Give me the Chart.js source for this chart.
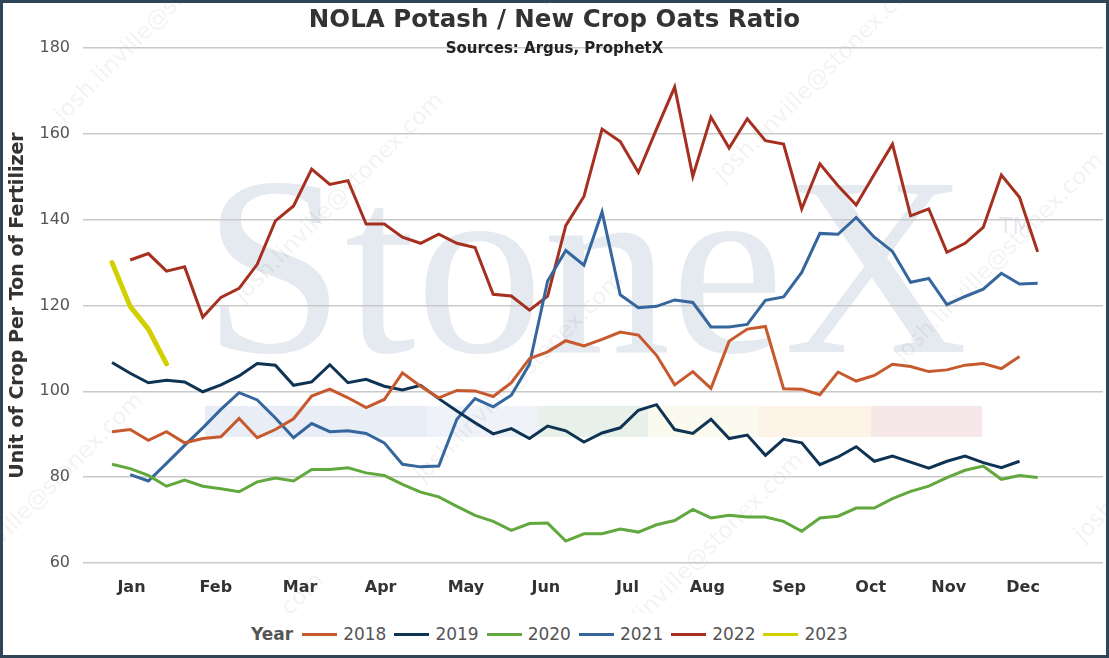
<!DOCTYPE html>
<html>
<head>
<meta charset="utf-8">
<script src="https://cdn.jsdelivr.net/npm/chart.js@4.4.0/dist/chart.umd.min.js"></script>
<style>
  html, body { margin: 0; padding: 0; background: #fff; }
  #frame { position: relative; width: 1109px; height: 658px; box-sizing: border-box; border: 3px solid #2f4658; background: #fff; overflow: hidden; }
  #wrap { position: absolute; left: 0; top: 0; width: 1103px; height: 610px; }
  #legend { position: absolute; left: 248px; top: 619px; height: 24px; display: flex; align-items: center; font-family: "DejaVu Sans", Verdana, sans-serif; font-size: 17px; color: #555; white-space: nowrap; }
  #legend .ttl { font-weight: bold; margin-right: 9px; }
  #legend .ln { display: inline-block; width: 35px; height: 3px; margin-right: 6px; }
  #legend .txt { margin-right: 8px; }
</style>
</head>
<body>
<div id="frame">
  <div id="wrap"><canvas id="chart"></canvas></div>
  <div id="legend"></div>
</div>
<script>
// 週ごとの比率（1週目 = index 0）
const monthLabels = ['Jan', 'Feb', 'Mar', 'Apr', 'May', 'Jun', 'Jul', 'Aug', 'Sep', 'Oct', 'Nov', 'Dec'];
const monthTicks = [1.07, 5.72, 10.36, 14.8, 19.5, 23.9, 28.4, 32.8, 37.3, 41.8, 46.1, 50.2]; // 月ラベルの週位置

const years = ['2018', '2019', '2020', '2021', '2022', '2023'];
const colors = ['#c65a2e', '#0f3352', '#62a83f', '#35679e', '#a53020', '#d2d000'];

const y2018 = [90.6, 91.1, 88.6, 90.6, 88.0, 89.0, 89.4, 93.7, 89.2, 91.1, 93.6, 98.9, 100.5, 98.5, 96.2, 98.1, 104.3, 101.2, 98.5, 100.2,
  100.1, 98.8, 102.0, 107.6, 109.2, 111.8, 110.6, 112.1, 113.8, 113.1, 108.4, 101.5, 104.6, 100.7, 111.7, 114.5, 115.1, 100.6, 100.5, 99.2,
  104.5, 102.4, 103.7, 106.3, 105.8, 104.6, 105.0, 106.1, 106.5, 105.3, 108.1];
const y2019 = [106.7, 104.2, 102.0, 102.6, 102.2, 99.9, 101.5, 103.6, 106.5, 106.1, 101.4, 102.2, 106.2, 102.0, 102.8, 101.2, 100.3, 101.4, 98.3, 95.4,
  92.7, 90.1, 91.3, 89.0, 91.9, 90.8, 88.2, 90.3, 91.5, 95.6, 96.9, 91.1, 90.2, 93.5, 89.0, 89.8, 85.1, 88.8, 88.0, 82.9,
  84.7, 87.1, 83.7, 84.9, 83.5, 82.1, 83.7, 84.9, 83.4, 82.2, 83.7];
const y2020 = [83.0, 82.0, 80.4, 77.9, 79.3, 77.9, 77.3, 76.6, 78.9, 79.8, 79.1, 81.8, 81.8, 82.2, 81.0, 80.4, 78.3, 76.5, 75.4, 73.2,
  71.1, 69.7, 67.6, 69.2, 69.3, 65.1, 66.8, 66.8, 67.9, 67.2, 68.9, 69.9, 72.5, 70.5, 71.1, 70.7, 70.7, 69.7, 67.4, 70.5,
  70.9, 72.8, 72.8, 75.0, 76.7, 77.9, 79.9, 81.6, 82.6, 79.5, 80.4, 79.9];
const y2021 = [null, 80.6, 79.1, 83.2, 87.4, 91.5, 95.8, 99.7, 98.0, 93.8, 89.2, 92.5, 90.6, 90.8, 90.2, 88.0, 83.0, 82.4, 82.6, 93.5,
  98.3, 96.4, 99.1, 106.3, 125.7, 132.8, 129.4, 141.8, 122.5, 119.5, 119.8, 121.3, 120.7, 115.0, 115.0, 115.6, 121.2, 122.0, 127.7, 136.8,
  136.6, 140.5, 135.9, 132.6, 125.4, 126.3, 120.2, 122.1, 123.8, 127.5, 125.0, 125.2];
const y2022 = [null, 130.6, 132.1, 128.0, 129.0, 117.3, 121.9, 124.0, 129.6, 139.7, 143.2, 151.8, 148.2, 149.1, 139.0, 139.0, 135.9, 134.5, 136.6, 134.5,
  133.5, 122.6, 122.2, 118.9, 122.2, 138.6, 145.4, 161.1, 158.2, 151.0, 161.1, 170.9, 150.1, 163.9, 156.7, 163.5, 158.4, 157.6, 142.5, 153.0,
  147.9, 143.4, 150.6, 157.6, 140.9, 142.5, 132.4, 134.5, 138.2, 150.4, 145.2, 132.5];
const y2023 = [130.0, 119.8, 114.5, 106.4];

const yTitle = 'Unit of Crop Per Ton of Fertilizer';
const chartTitle = 'NOLA Potash / New Crop Oats Ratio';
const chartSubtitle = 'Sources: Argus, ProphetX';
const watermarkText = 'StoneX';
const emailText = 'josh.linville@stonex.com';

const series = [y2018, y2019, y2020, y2021, y2022, y2023];

// 週番号を x にした点列へ
function toPoints(vals) {
  return vals.map((v, i) => ({ x: i, y: v }));
}

const datasets = series.map((vals, i) => ({
  label: years[i],
  data: toPoints(vals),
  borderColor: colors[i],
  backgroundColor: colors[i],
  borderWidth: i === 5 ? 5 : 3,
  borderCapStyle: i === 5 ? 'round' : 'butt',
  borderJoinStyle: i === 5 ? 'round' : 'miter',
  pointRadius: 0,
  tension: 0,
  spanGaps: false
}));

// 背景のロゴ透かし
const watermark = {
  id: 'watermark',
  beforeDraw(chart) {
    const c = chart.ctx;
    c.save();
    c.fillStyle = '#fff';
    c.fillRect(0, 0, chart.width, chart.height);

    // 色帯
    const strip = [['#e9edf5', 202, 424], ['#eff3f9', 424, 535], ['#e8f0ea', 535, 645],
                   ['#fafbee', 645, 756], ['#fdf3e7', 756, 868], ['#f6e7e9', 868, 979]];
    strip.forEach(([col, x0, x1]) => { c.fillStyle = col; c.fillRect(x0, 403, x1 - x0, 31); });

    c.fillStyle = '#e5e9f0';
    c.font = '255px "Liberation Serif", "Times New Roman", serif';
    c.textBaseline = 'alphabetic';
    c.fillText(watermarkText, 200, 349);
    c.font = '22px "DejaVu Sans", sans-serif';
    c.fillText('TM', 996, 230);

    // メールの斜め透かし
    c.fillStyle = 'rgba(0,0,0,0.05)';
    c.font = '23px "DejaVu Sans", sans-serif';
    for (let k = -4; k < 10; k++) {
      for (let j = -2; j < 6; j++) {
        const cx = k * 180 + j * 300 + 60;
        const cy = k * 180 - j * 300 + 120;
        c.save();
        c.translate(cx, cy);
        c.rotate(-Math.PI / 4);
        c.fillText(emailText, 0, 0);
        c.restore();
      }
    }
    c.restore();
  }
};

// タイトルとサブタイトル（サブタイトルは180の線の上に重ねる）
const titles = {
  id: 'titles',
  afterDraw(chart) {
    const c = chart.ctx;
    c.save();
    c.textAlign = 'center';
    c.textBaseline = 'alphabetic';
    c.fillStyle = '#333';
    c.font = 'bold 24.5px "DejaVu Sans", Verdana, sans-serif';
    c.fillText(chartTitle, chart.width / 2, 23.7);
    c.fillStyle = '#222';
    c.font = 'bold 15px "DejaVu Sans", Verdana, sans-serif';
    c.fillText(chartSubtitle, chart.width / 2, 50.3);
    c.restore();
  }
};

const ctx = document.getElementById('chart').getContext('2d');
const myChart = new Chart(ctx, {
  type: 'line',
  data: { datasets: datasets },
  options: {
    responsive: true,
    maintainAspectRatio: false,
    animation: false,
    layout: { padding: { top: 45, right: 3, bottom: 0, left: 0 } },
    plugins: { legend: { display: false }, tooltip: { enabled: false } },
    scales: {
      x: {
        type: 'linear',
        min: -1.6,
        max: 54.6,
        grid: { display: false, drawTicks: false },
        border: { display: false },
        afterBuildTicks: (s) => { s.ticks = monthTicks.map(v => ({ value: v })); },
        afterFit: (s) => { s.height = 50; },
        ticks: {
          autoSkip: false,
          maxRotation: 0,
          padding: 15,
          color: '#333',
          font: { family: '"DejaVu Sans", Verdana, sans-serif', size: 16, weight: 'bold' },
          callback: (v, i) => monthLabels[i]
        }
      },
      y: {
        min: 60,
        max: 180,
        grid: { color: '#c9c9c9', lineWidth: 1.5, drawTicks: false },
        border: { display: false },
        afterFit: (s) => { s.width = 80; },
        ticks: {
          stepSize: 20,
          padding: 13,
          color: '#555',
          font: { family: '"DejaVu Sans", Verdana, sans-serif', size: 16 }
        },
        title: {
          display: true,
          text: yTitle,
          color: '#333',
          padding: { top: 4, bottom: 0 },
          font: { family: '"DejaVu Sans", Verdana, sans-serif', size: 19, weight: 'bold' }
        }
      }
    }
  },
  plugins: [watermark, titles]
});

// 凡例（"Year" を先頭に置くため HTML で組む）
function renderLegend(chart) {
  const box = document.getElementById('legend');
  let html = '<span class="ttl">Year</span>';
  chart.data.datasets.forEach(ds => {
    html += `<span class="ln" style="background:${ds.borderColor}"></span><span class="txt">${ds.label}</span>`;
  });
  box.innerHTML = html;
}
renderLegend(myChart);
</script>
</body>
</html>
